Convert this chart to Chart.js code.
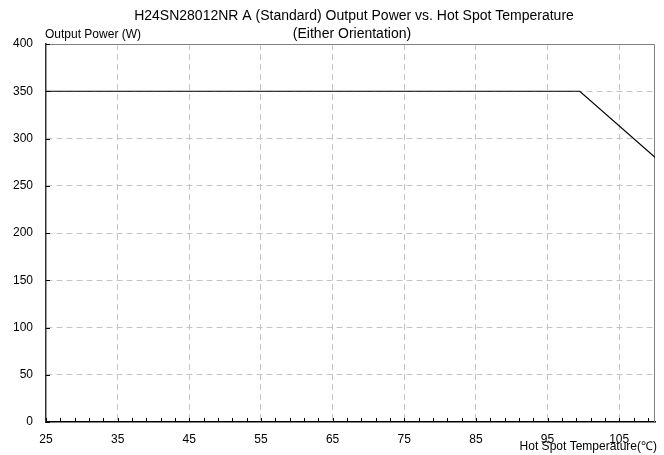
<!DOCTYPE html>
<html>
<head>
<meta charset="utf-8">
<script src="https://cdn.jsdelivr.net/npm/chart.js@4"></script>
<style>
  html, body { margin: 0; padding: 0; background: #fff; }
  #wrap { width: 664px; height: 455px; }
</style>
</head>
<body>
<div id="wrap"><canvas id="chart" width="664" height="455"></canvas></div>
<script>
let temps = [25, 99.5, 110];
let power = [350, 350, 280];
let xLabels = [25, 35, 45, 55, 65, 75, 85, 95, 105];
let xMinorStep = 2;
let yLabels = [0, 50, 100, 150, 200, 250, 300, 350, 400];

let titleLines = ["H24SN28012NR A (Standard) Output Power vs. Hot Spot Temperature", "(Either Orientation)"];
let yTitle = "Output Power (W)";
let xTitle = "Hot Spot Temperature(\u2103)";

let fontFamily = "'Liberation Sans', Arial, sans-serif";

// frame, inward ticks and free-standing texts
let decorPlugin = {
  id: "decor",
  beforeDatasetsDraw(chart) {
    let ctx = chart.ctx;
    let a = chart.chartArea;
    let xs = chart.scales.x;
    let ys = chart.scales.y;
    ctx.save();
    ctx.strokeStyle = "#808080";
    ctx.lineWidth = 1;
    ctx.beginPath();
    ctx.moveTo(a.left, a.top + 0.5);
    ctx.lineTo(a.right - 0.5, a.top + 0.5);
    ctx.lineTo(a.right - 0.5, a.bottom);
    ctx.stroke();

    ctx.strokeStyle = "#000";
    ctx.beginPath();
    for (let v = xs.min; v <= xs.max; v += xMinorStep) {
      let px = Math.round(xs.getPixelForValue(v)) + 0.5;
      ctx.moveTo(px, a.bottom);
      ctx.lineTo(px, a.bottom - 4);
    }
    yLabels.forEach(v => {
      let py = Math.round(ys.getPixelForValue(v)) + 0.5;
      ctx.moveTo(a.left, py);
      ctx.lineTo(a.left + 4, py);
    });
    ctx.stroke();
    ctx.restore();
  },
  afterDraw(chart) {
    let ctx = chart.ctx;
    let a = chart.chartArea;
    ctx.save();
    ctx.fillStyle = "#000";
    ctx.font = "14px " + fontFamily;
    ctx.textAlign = "center";
    ctx.textBaseline = "middle";
    ctx.fillText(titleLines[0], 354, 16);
    ctx.fillText(titleLines[1], 352, 34);
    ctx.font = "12px " + fontFamily;
    ctx.textAlign = "left";
    ctx.fillText(yTitle, 45, 35);
    ctx.textAlign = "right";
    ctx.fillText(xTitle, a.right + 2, 447);
    ctx.restore();
  }
};

let ctx = document.getElementById("chart").getContext("2d");
let myChart = new Chart(ctx, {
  type: "line",
  data: {
    datasets: [{
      data: temps.map((t, i) => ({ x: t, y: power[i] })),
      borderColor: "#000",
      borderWidth: 1.2,
      pointRadius: 0,
      fill: false,
      tension: 0
    }]
  },
  options: {
    responsive: false,
    animation: false,
    layout: { padding: { top: 44, right: 9, left: 0, bottom: 0 } },
    plugins: {
      legend: { display: false },
      tooltip: { enabled: false },
      title: { display: false }
    },
    scales: {
      x: {
        type: "linear",
        min: 25,
        max: 110,
        afterBuildTicks: scale => { scale.ticks = xLabels.map(v => ({ value: v })); },
        afterFit: scale => { scale.height = 33; },
        grid: {
          color: c => (c.tick && c.tick.value > 25) ? "#c4c4c4" : "rgba(0,0,0,0)",
          lineWidth: 1,
          drawTicks: false
        },
        border: { display: true, color: "#000", width: 1.5, dash: [6, 4] },
        ticks: {
          color: "#000",
          font: { family: fontFamily, size: 12 },
          padding: 10,
          maxRotation: 0,
          autoSkip: false
        }
      },
      y: {
        min: 0,
        max: 400,
        afterBuildTicks: scale => { scale.ticks = yLabels.map(v => ({ value: v })); },
        afterFit: scale => { scale.width = 46; },
        grid: {
          color: c => (c.tick && c.tick.value > 0 && c.tick.value < 400) ? "#c4c4c4" : "rgba(0,0,0,0)",
          lineWidth: 1,
          drawTicks: false
        },
        border: { display: true, color: "#333", width: 1.5, dash: [6, 4] },
        ticks: {
          color: "#000",
          font: { family: fontFamily, size: 12 },
          padding: 13
        }
      }
    }
  },
  plugins: [decorPlugin]
});
</script>
</body>
</html>
